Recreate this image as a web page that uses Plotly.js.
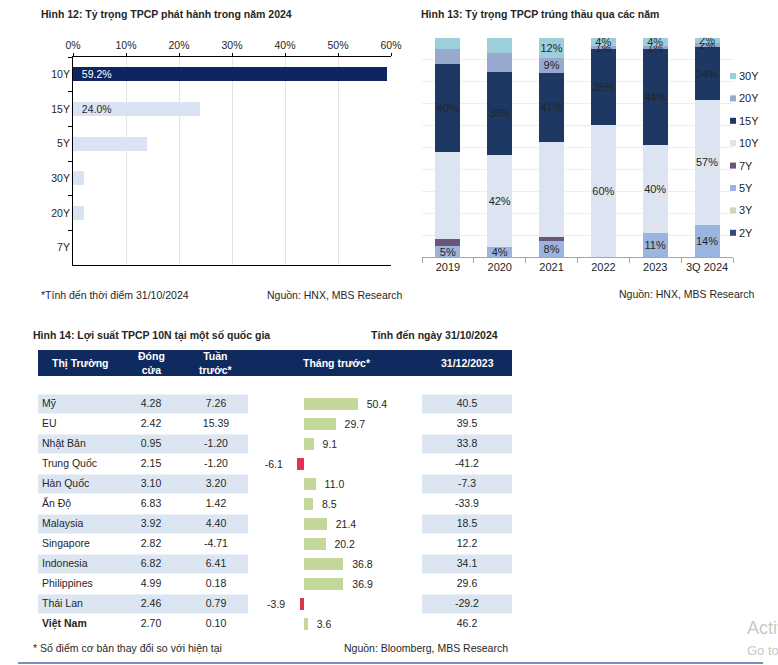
<!DOCTYPE html>
<html><head><meta charset="utf-8">
<script src="https://cdn.plot.ly/plotly-3.0.1.min.js"></script>
<style>html,body{margin:0;padding:0;background:#fff}#chart{width:778px;height:665px}</style>
</head><body><div id="chart"></div>
<script>
// ---------- Hình 12 data ----------
const issueTenors = ['10Y','15Y','5Y','30Y','20Y','7Y'];
const issueShare = [59.2, 24.0, 13.9, 2.0, 2.0, 0.0];
const issueLabels = ['59.2%','24.0%','','','',''];

// ---------- Hình 13 data ----------
const years = ['2019','2020','2021','2022','2023','3Q 2024'];
const tenorNames = ['2Y','3Y','5Y','7Y','10Y','15Y','20Y','30Y'];
const share2Y  = [0, 0, 0, 0, 0, 0];
const share3Y  = [0, 0, 0, 0, 0, 0];
const share5Y  = [5, 4.5, 7.4, 0, 11, 14.6];
const share7Y  = [3, 0, 1.8, 0, 0, 0];
const share10Y = [40, 42, 43.4, 60, 40, 57];
const share15Y = [40, 38, 31.5, 35, 44, 24];
const share20Y = [7, 8.5, 6.8, 1, 1, 2.2];
const share30Y = [5, 7, 9.1, 4, 4, 2.2];
const label2Y  = ['','','','','',''];
const label3Y  = ['','','','','',''];
const label5Y  = ['5%','4%','8%','','11%','14%'];
const label7Y  = ['','','','','',''];
const label10Y = ['','42%','','60%','40%','57%'];
const label15Y = ['40%','38%','41%','35%','44%','24%'];
const label20Y = ['','','9%','1%','1%','2%'];
const label30Y = ['','','12%','4%','4%','2%'];

// ---------- Hình 14 data ----------
const countries = ['Mỹ','EU','Nhật Bản','Trung Quốc','Hàn Quốc','Ấn Độ','Malaysia','Singapore','Indonesia','Philippines','Thái Lan','Việt Nam'];
const closeYield = [4.28, 2.42, 0.95, 2.15, 3.10, 6.83, 3.92, 2.82, 6.82, 4.99, 2.46, 2.70];
const weekChange = [7.26, 15.39, -1.20, -1.20, 3.20, 1.42, 4.40, -4.71, 6.41, 0.18, 0.79, 0.10];
const monthChange = [50.4, 29.7, 9.1, -6.1, 11.0, 8.5, 21.4, 20.2, 36.8, 36.9, -3.9, 3.6];
const ytdChange = [40.5, 39.5, 33.8, -41.2, -7.3, -33.9, 18.5, 12.2, 34.1, 29.6, -29.2, 46.2];
const headerLabels = ['Thị Trường','Đóng<br>cửa','Tuần<br>trước*','Tháng trước*','31/12/2023'];

// ---------- layout helpers ----------
const W = 778, H = 665;
const fx = p => p / W;
const fy = p => 1 - p / H;
const FONT = 'Liberation Sans, Arial, sans-serif';
const TXT = '#262626';
const NB = '\u00a0\u00a0';

const tenorColors = {'2Y':'#2d4e7c','3Y':'#cbd9ad','5Y':'#9ab5e0','7Y':'#6b5579','10Y':'#dce4f2','15Y':'#1c3863','20Y':'#98a9cf','30Y':'#9dcfdb'};
const tenorShares = {'2Y':share2Y,'3Y':share3Y,'5Y':share5Y,'7Y':share7Y,'10Y':share10Y,'15Y':share15Y,'20Y':share20Y,'30Y':share30Y};
const tenorLabels = {'2Y':label2Y,'3Y':label3Y,'5Y':label5Y,'7Y':label7Y,'10Y':label10Y,'15Y':label15Y,'20Y':label20Y,'30Y':label30Y};

const traces = [];

// Hình 12 bars
traces.push({
  type:'bar', orientation:'h', x: issueShare, y: issueTenors, xaxis:'x', yaxis:'y',
  width:0.4,
  marker:{color: issueTenors.map((t,i)=> i===0 ? '#0d2660' : '#dae3f3')},
  text: issueLabels.map(s => s ? NB + s : ''), textposition:'inside', insidetextanchor:'start',
  constraintext:'none', textangle:0,
  textfont:{family:FONT, size:10.5, color: issueTenors.map((t,i)=> i===0 ? '#ffffff' : TXT)},
  hoverinfo:'skip', showlegend:false
});

// Hình 13 stacked bars
tenorNames.forEach(t => {
  traces.push({
    type:'bar', name:t, x: years, y: tenorShares[t], xaxis:'x2', yaxis:'y2',
    width:0.48, marker:{color: tenorColors[t]},
    text: tenorLabels[t], textposition:'inside', insidetextanchor:'middle',
    constraintext:'none', textangle:0,
    textfont:{family:FONT, size:11, color: TXT},
    hoverinfo:'skip', showlegend:false
  });
});

// Hình 14 table text cells
const colX = {name:42, close:151, week:216, ytd:467};
traces.push({
  type:'scatter', mode:'text', xaxis:'x3', yaxis:'y3',
  x: countries.map(()=>colX.name), y: countries,
  text: countries.map((c,i)=> i===countries.length-1 ? '<b>'+c+'</b>' : c),
  textposition:'middle right', textfont:{family:FONT, size:10.5, color:TXT},
  hoverinfo:'skip', showlegend:false, cliponaxis:false
});
traces.push({
  type:'scatter', mode:'text', xaxis:'x3', yaxis:'y3',
  x: countries.map(()=>colX.close), y: countries,
  text: closeYield.map(v=>v.toFixed(2)),
  textposition:'middle center', textfont:{family:FONT, size:10.5, color:TXT},
  hoverinfo:'skip', showlegend:false, cliponaxis:false
});
traces.push({
  type:'scatter', mode:'text', xaxis:'x3', yaxis:'y3',
  x: countries.map(()=>colX.week), y: countries,
  text: weekChange.map(v=>v.toFixed(2)),
  textposition:'middle center', textfont:{family:FONT, size:10.5, color:TXT},
  hoverinfo:'skip', showlegend:false, cliponaxis:false
});
traces.push({
  type:'scatter', mode:'text', xaxis:'x3', yaxis:'y3',
  x: countries.map(()=>colX.ytd), y: countries,
  text: ytdChange.map(v=>v.toFixed(1)),
  textposition:'middle center', textfont:{family:FONT, size:10.5, color:TXT},
  hoverinfo:'skip', showlegend:false, cliponaxis:false
});
// Tháng trước bars
traces.push({
  type:'bar', orientation:'h', x: monthChange, y: countries, xaxis:'x4', yaxis:'y3',
  width:0.6,
  marker:{color: monthChange.map(v => v < 0 ? '#e0334c' : '#c4d79b')},
  text: monthChange.map(v => v < 0 ? v.toFixed(1) + NB + NB : NB + v.toFixed(1)),
  textposition:'outside', constraintext:'none', textangle:0,
  textfont:{family:FONT, size:10.5, color:TXT}, cliponaxis:false,
  hoverinfo:'skip', showlegend:false
});

// ---------- shapes ----------
const shapes = [];
// table stripes (alternate rows)
countries.forEach((c,i) => {
  if (i % 2 === 0) {
    shapes.push({type:'rect', xref:'x3', yref:'y3', x0:38, x1:248, y0:i-0.48, y1:i+0.48, fillcolor:'#dce6f2', line:{width:0}, layer:'below'});
    shapes.push({type:'rect', xref:'x3', yref:'y3', x0:422, x1:512, y0:i-0.48, y1:i+0.48, fillcolor:'#dce6f2', line:{width:0}, layer:'below'});
  }
});
// header bar
shapes.push({type:'rect', xref:'paper', yref:'paper', x0:fx(38), x1:fx(512), y0:fy(376), y1:fy(350), fillcolor:'#0f2a5e', line:{width:0}, layer:'below'});
// bottom rule
shapes.push({type:'line', xref:'paper', yref:'paper', x0:fx(18), x1:fx(763), y0:fy(663), y1:fy(663), line:{color:'#7390c4', width:2}});

// manual legend for Hình 13 (top: 30Y ... bottom: 2Y)
const legendOrder = tenorNames.slice().reverse();
const annotations = [];
legendOrder.forEach((t,i) => {
  const cy = 76 + 22.4*i;
  shapes.push({type:'rect', xref:'paper', yref:'paper', x0:fx(730), x1:fx(736), y0:fy(cy+3), y1:fy(cy-3), fillcolor:tenorColors[t], line:{width:0}});
  annotations.push({xref:'paper', yref:'paper', x:fx(737), y:fy(cy), xanchor:'left', yanchor:'middle', text:t, showarrow:false, font:{family:FONT, size:11, color:TXT}});
});

function ann(text, x, y, anchor, size, opts) {
  annotations.push(Object.assign({xref:'paper', yref:'paper', x:fx(x), y:fy(y), xanchor:anchor, yanchor:'middle', text:text, showarrow:false, font:{family:FONT, size:size, color:TXT}}, opts||{}));
}
ann('<b>Hình 12: Tỷ trọng TPCP phát hành trong năm 2024</b>', 39, 15, 'left', 10.5);
ann('<b>Hình 13: Tỷ trọng TPCP trúng thầu qua các năm</b>', 419, 15, 'left', 10.5);
ann('*Tính đến thời điểm 31/10/2024', 39, 295, 'left', 10.5);
ann('Nguồn: HNX, MBS Research', 405, 295, 'right', 10.5);
ann('Nguồn: HNX, MBS Research', 757, 294, 'right', 10.5);
ann('<b>Hình 14: Lợi suất TPCP 10N tại một số quốc gia</b>', 31, 335, 'left', 10.5);
ann('<b>Tính đến ngày 31/10/2024</b>', 500, 335, 'right', 10.5);
ann('* Số điểm cơ bản thay đổi so với hiện tại', 31, 648, 'left', 10.5);
ann('Nguồn: Bloomberg, MBS Research', 510, 648, 'right', 10.5);
// header labels
const headerX = [80, 151, 215, 337, 467];
headerLabels.forEach((h,i) => ann('<b>'+h+'</b>', headerX[i], 363, 'center', 10.5, {font:{family:FONT, size:10.5, color:'#ffffff'}}));
// OS watermark (cut off at the right edge, as in the reference)
ann('Activate Windows', 745, 628, 'left', 18, {font:{family:FONT, size:18, color:'#c9c9c9'}});
ann('Go to Settings to activate Windows.', 745, 650, 'left', 13, {font:{family:FONT, size:13, color:'#c9c9c9'}});

const layout = {
  width:W, height:H, autosize:false,
  margin:{l:0, r:0, t:0, b:0},
  paper_bgcolor:'#ffffff', plot_bgcolor:'rgba(0,0,0,0)',
  font:{family:FONT, size:10.5, color:TXT},
  barmode:'stack', bargap:0.2,
  showlegend:false,
  // Hình 12
  xaxis:{domain:[fx(73), fx(391)], anchor:'y', side:'top', range:[0,60], dtick:10, ticksuffix:'%',
         showgrid:true, gridcolor:'#e3e3e3', gridwidth:1, zeroline:false,
         showline:true, linecolor:'#000000', linewidth:1, mirror:true,
         ticks:'outside', ticklen:3, tickcolor:'#000', tickfont:{family:FONT, size:10.5, color:TXT}, fixedrange:true},
  yaxis:{domain:[fy(265), fy(57)], anchor:'x', type:'category', categoryorder:'array', categoryarray:issueTenors,
         range:[5.5,-0.5], showgrid:false, zeroline:false, showline:true, linecolor:'#000', linewidth:1,
         ticks:'outside', tickson:'boundaries', ticklen:4, tickcolor:'#000', ticklabelstandoff:0,
         tickfont:{family:FONT, size:10.5, color:TXT}, fixedrange:true},
  // Hình 13
  xaxis2:{domain:[fx(422), fx(733)], anchor:'y2', type:'category', categoryorder:'array', categoryarray:years,
          range:[-0.5,5.5], showgrid:false, zeroline:false, showline:true, linecolor:'#a6a6a6', linewidth:1,
          ticks:'outside', tickson:'boundaries', ticklen:5, tickcolor:'#a6a6a6',
          tickfont:{family:FONT, size:11, color:TXT}, fixedrange:true},
  yaxis2:{domain:[fy(257), fy(37.7)], anchor:'x2', range:[0,100], dtick:10, showgrid:true, gridcolor:'#eeeeee',
          zeroline:false, showline:false, showticklabels:false, ticks:'', fixedrange:true},
  // Hình 14 table (x in page pixel units)
  xaxis3:{domain:[0,1], anchor:'y3', range:[0,W], visible:false, fixedrange:true},
  yaxis3:{domain:[fy(634), fy(394)], anchor:'x3', type:'category', categoryorder:'array', categoryarray:countries,
          range:[11.5,-0.5], visible:false, fixedrange:true},
  xaxis4:{domain:[fx(250), fx(420)], anchor:'y3', range:[-(304-250)/1.07, (420-304)/1.07], visible:false, fixedrange:true},
  shapes: shapes,
  annotations: annotations
};

Plotly.newPlot('chart', traces, layout, {staticPlot:true, displayModeBar:false});
</script>
</body></html>
